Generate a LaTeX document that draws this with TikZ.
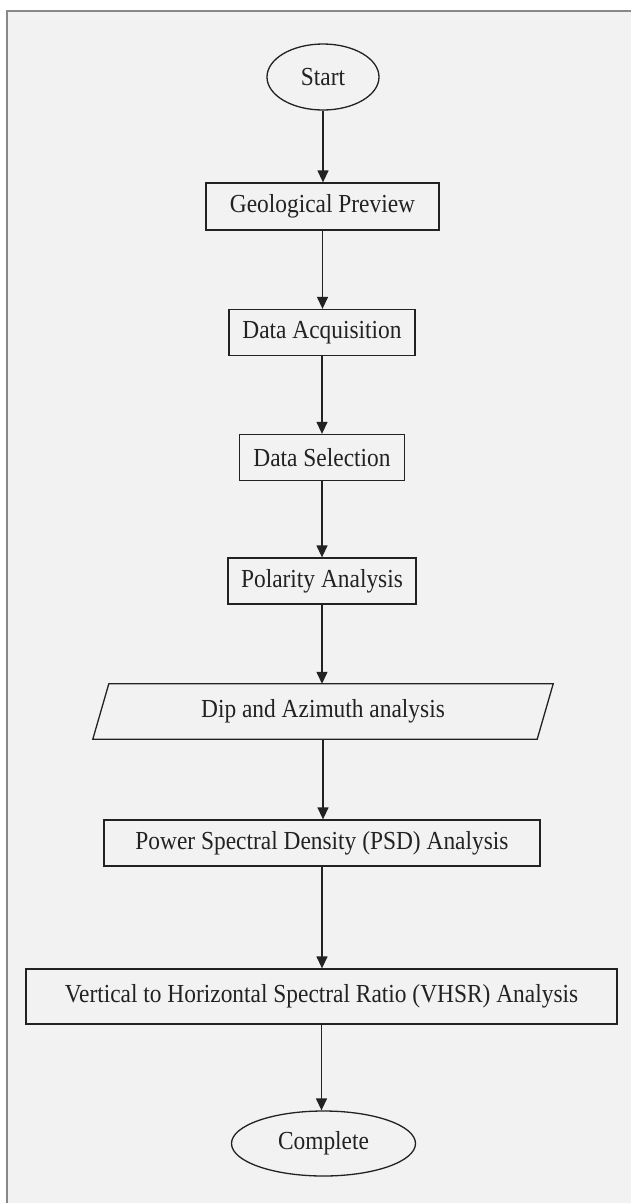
\documentclass[tikz,border=0pt]{standalone}
\usepackage{fontspec}
\setmainfont{Liberation Serif}[FakeStretch=0.9]
\usetikzlibrary{arrows.meta,shapes.geometric,calc}
\definecolor{framegray}{HTML}{888888}
\definecolor{bggray}{HTML}{F2F2F2}
\definecolor{ink}{HTML}{222222}
\begin{document}
\begin{tikzpicture}[x=1pt,y=-1pt,
  every node/.style={font=\fontsize{26}{30}\selectfont, text=ink},
  procbox/.style={draw=ink, line width=1.3pt, rectangle, inner sep=0pt, minimum height=47pt},
  termbox/.style={draw=ink, line width=1.3pt, ellipse, inner sep=0pt},
  flow/.style={draw=ink, line width=1.3pt, -{Triangle[width=11pt,length=12pt]}}
]
\useasboundingbox (0,0) rectangle (630,1203);
\fill[white] (0,0) rectangle (630,1203);
\fill[bggray] (7,11) rectangle (631,1204);
\draw[framegray, line width=2pt] (7,1204) -- (7,11) -- (631,11);

\node[termbox, minimum width=112pt, minimum height=66pt] (start) at (323,77) {Start};
\node[procbox, minimum width=233pt] (geo) at (322.5,206.5) {Geological Preview};
\node[procbox, minimum width=186pt, minimum height=46pt] (acq) at (322,332.5) {Data Acquisition};
\node[procbox, minimum width=165pt, minimum height=46pt] (sel) at (322,457.5) {Data Selection};
\node[procbox, minimum width=188pt, minimum height=46pt] (pol) at (322,581) {Polarity Analysis};
\node[inner sep=0pt, minimum width=444pt, minimum height=55pt] (dip) at (323,711.5) {Dip and Azimuth analysis};
\draw[ink, line width=1.3pt] ($(dip.north west)+(8,0)$) -- ($(dip.north east)+(8,0)$) -- ($(dip.south east)+(-8,0)$) -- ($(dip.south west)+(-8,0)$) -- cycle;
\node[procbox, minimum width=436pt, minimum height=46pt] (psd) at (322,843) {Power Spectral Density (PSD) Analysis};
\node[procbox, minimum width=591pt, minimum height=55pt] (vhsr) at (321.5,996.5) {Vertical to Horizontal Spectral Ratio (VHSR) Analysis};
\node[termbox, minimum width=184pt, minimum height=65pt] (done) at (323.5,1143.5) {Complete};

\draw[flow] (start.south) -- (start.south |- geo.north);
\draw[flow] (geo.south) -- (geo.south |- acq.north);
\draw[flow] (acq.south) -- (acq.south |- sel.north);
\draw[flow] (sel.south) -- (sel.south |- pol.north);
\draw[flow] (pol.south) -- (pol.south |- dip.north);
\draw[flow] (dip.south) -- (dip.south |- psd.north);
\draw[flow] (psd.south) -- (psd.south |- vhsr.north);
\draw[flow] (vhsr.south) -- (vhsr.south |- done.north);
\end{tikzpicture}
\end{document}
